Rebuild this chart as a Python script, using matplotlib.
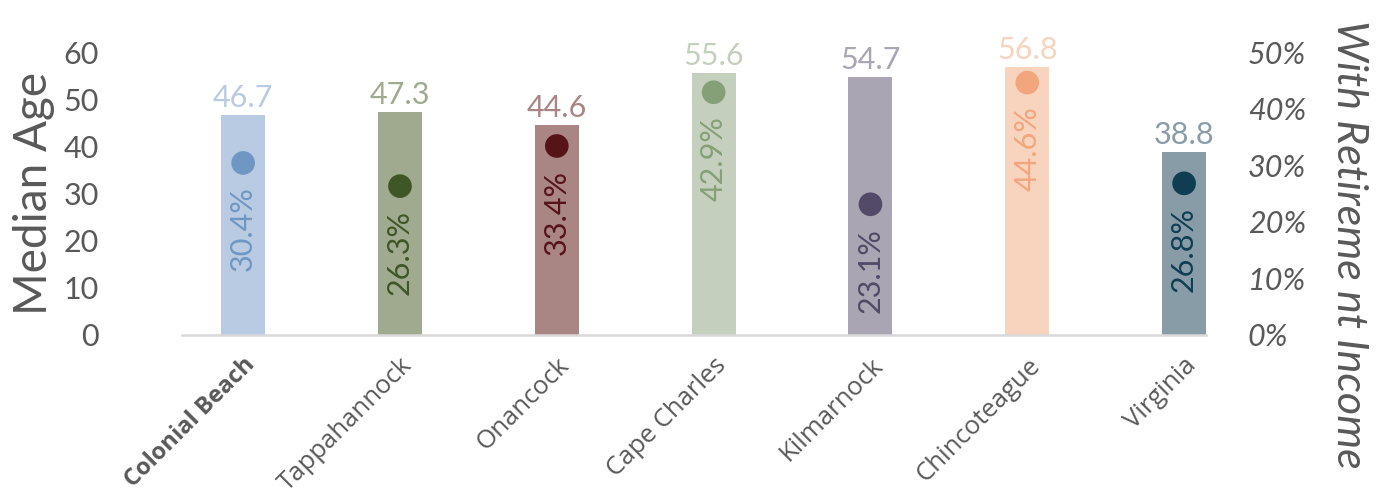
import numpy as np
import matplotlib.pyplot as plt

plt.rcParams['font.family'] = ['Lato', 'DejaVu Sans']

towns = ['Colonial Beach', 'Tappahannock', 'Onancock', 'Cape Charles',
         'Kilmarnock', 'Chincoteague', 'Virginia']
median_age = [46.7, 47.3, 44.6, 55.6, 54.7, 56.8, 38.8]
retire_pct = [30.4, 26.3, 33.4, 42.9, 23.1, 44.6, 26.8]

bar_colors = ['#B8CBE2', '#A0AA8F', '#A98584', '#C4D0BD',
              '#A9A5B3', '#F8D3BE', '#879CA7']
dot_colors = ['#7097C3', '#3F5627', '#561418', '#85A077',
              '#524A66', '#F1A67E', '#0F3D52']

grey = '#595959'
x = np.arange(len(towns))

fig = plt.figure(figsize=(13.85, 4.99), dpi=100)
ax = fig.add_axes([0.1314, 0.3287, 0.7394, 0.567])
ax2 = ax.twinx()

ax.bar(x, median_age, width=0.28, color=bar_colors, zorder=2)
for xi, v, c in zip(x, median_age, bar_colors):
    ax.annotate(f'{v:.1f}', (xi, v), xytext=(0, 2), textcoords='offset points',
                ha='center', va='bottom', fontsize=22, color=c)

ax.set_xlim(-0.39, 6.14)
ax.set_ylim(0, 60)
ax.set_yticks(range(0, 61, 10))
ax.tick_params(axis='y', length=0, pad=60, labelsize=22, labelcolor=grey)
for lbl in ax.get_yticklabels():
    lbl.set_horizontalalignment('right')
ax.set_ylabel('Median Age', fontsize=33, color=grey, labelpad=6)

# category labels in Open Sans, the first one in bold
ax.set_xticks(x)
ax.set_xticklabels(towns, rotation=45, ha='right', rotation_mode='anchor',
                   fontsize=18.5, color=grey, family=['Open Sans', 'DejaVu Sans'])
ax.tick_params(axis='x', length=0, pad=13)
first = ax.get_xticklabels()[0]
first.set_fontweight('bold')
first.set_fontsize(17)

for side in ['top', 'right', 'left']:
    ax.spines[side].set_visible(False)
    ax2.spines[side].set_visible(False)
ax2.spines['bottom'].set_visible(False)
ax.spines['bottom'].set_color('#D9D9D9')
ax.spines['bottom'].set_linewidth(1.8)

pct = np.array(retire_pct) / 100
ax2.scatter(x, pct, s=290, c=dot_colors, zorder=3, linewidths=0)
for xi, p, c in zip(x, pct, dot_colors):
    ax2.annotate(f'{p * 100:.1f}%', (xi, p), xytext=(0, -17),
                 textcoords='offset points', ha='center', va='top',
                 rotation=90, fontsize=22, color=c)

ax2.set_ylim(0, 0.5)
ax2.set_yticks(np.arange(0, 0.51, 0.1))
ax2.set_yticklabels([f'{int(round(t * 100))}%' for t in np.arange(0, 0.51, 0.1)],
                    fontstyle='italic')
ax2.tick_params(axis='y', length=0, pad=30, labelsize=22, labelcolor=grey)

fig.text(1349 / 1385, 0.51, 'With Retireme nt Income', fontsize=31, color=grey,
         fontstyle='italic', rotation=-90, ha='center', va='center')

fig.savefig('out.png', dpi=100)
